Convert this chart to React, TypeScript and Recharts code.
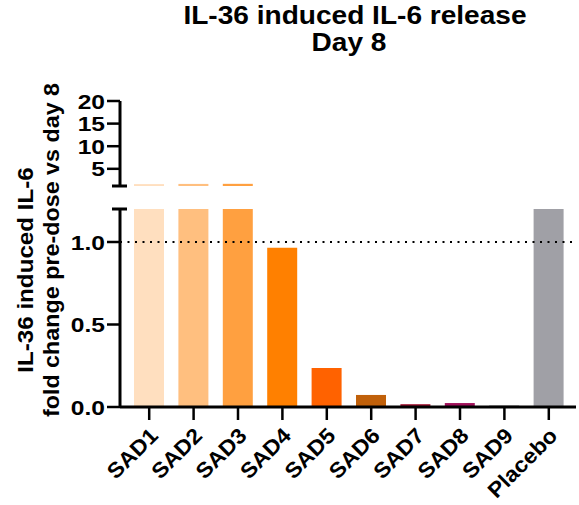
import React from 'react';
import { BarChart, Bar, XAxis, YAxis, Cell, ReferenceLine } from 'recharts';

const categories = ['SAD1', 'SAD2', 'SAD3', 'SAD4', 'SAD5', 'SAD6', 'SAD7', 'SAD8', 'SAD9', 'Placebo'];
const foldChange = [1.62, 1.66, 1.68, 0.965, 0.237, 0.073, 0.017, 0.024, 0.008, 1.2];
const barColors = ['#FFDFBF', '#FFBF7F', '#FFA040', '#FF8000', '#FF6200', '#C0600A', '#A0102F', '#A0105A', '#3A3A3A', '#A0A0A6'];
const upperTicks = [1.2, 5, 10, 15, 20];
const lowerTicks = [0, 0.5, 1.0, 1.2];
const upperDomain = [1.2, 20];
const lowerDomain = [0, 1.2];
const breakValue = 1.2;
const referenceValue = 1.0;
const titleLines = ['IL-36 induced IL-6 release', 'Day 8'];
const yLabelLines = ['IL-36 induced IL-6', 'fold change pre-dose vs day 8'];

const data = categories.map((name, i) => ({ name, value: foldChange[i] }));

const FONT = '"Liberation Sans", Arial, Helvetica, sans-serif';
const AXIS_X = 120;

const stretch = (x: number, y: number, s: number) => `translate(${x}, ${y}) scale(${s}, 1) translate(${-x}, ${-y})`;

const YTick = (props: any) => {
  const { y, payload, fmt } = props;
  const v = payload.value;
  if (Math.abs(v - breakValue) < 1e-9) {
    return <line x1={AXIS_X - 8} x2={AXIS_X + 7} y1={y} y2={y} stroke="#000" strokeWidth={3} />;
  }
  const tx = AXIS_X - 15;
  return (
    <g>
      <line x1={AXIS_X - 13} x2={AXIS_X} y1={y} y2={y} stroke="#000" strokeWidth={2.5} />
      <text x={tx} y={y} dy="0.36em" transform={stretch(tx, y, 1.17)} textAnchor="end" fontFamily={FONT} fontWeight="bold" fontSize={21} fill="#000">
        {fmt(v)}
      </text>
    </g>
  );
};

const XTick = (props: any) => {
  const { x, y, payload } = props;
  const ax = x + 10;
  const ay = y + 15;
  return (
    <text
      x={ax}
      y={ay}
      transform={`rotate(-45, ${ax}, ${ay}) ${stretch(ax, ay, 1.07)}`}
      textAnchor="end"
      fontFamily={FONT}
      fontWeight="bold"
      fontSize={21.5}
      fill="#000"
    >
      {payload.value}
    </text>
  );
};

export default function App() {
  return (
    <div style={{ position: 'absolute', left: 0, top: 0, width: 579, height: 505, background: '#fff', overflow: 'hidden' }}>
      <div style={{ position: 'absolute', left: 0, top: 0 }}>
        <BarChart width={579} height={505} data={data} margin={{ top: 209, right: 3, bottom: 0, left: 0 }}>
          <XAxis
            dataKey="name"
            height={98}
            padding={{ left: 7, right: 5 }}
            axisLine={{ stroke: '#000', strokeWidth: 3 }}
            tickLine={{ stroke: '#000', strokeWidth: 2.5 }}
            tickSize={13}
            tick={<XTick />}
            interval={0}
          />
          <YAxis
            width={120}
            domain={lowerDomain}
            ticks={lowerTicks}
            allowDataOverflow
            axisLine={{ stroke: '#000', strokeWidth: 3 }}
            tickLine={false}
            tick={<YTick fmt={(v: number) => v.toFixed(1)} />}
            interval={0}
          />
          <ReferenceLine y={referenceValue} stroke="#000" strokeWidth={2} strokeDasharray="2 5.5" />
          <Bar dataKey="value" barSize={30} isAnimationActive={false}>
            {data.map((d, i) => (
              <Cell key={d.name} fill={barColors[i]} />
            ))}
          </Bar>
        </BarChart>
      </div>
      <div style={{ position: 'absolute', left: 0, top: 0 }}>
        <BarChart width={579} height={192} data={data} margin={{ top: 101, right: 3, bottom: 6, left: 0 }}>
          <XAxis dataKey="name" hide padding={{ left: 7, right: 5 }} />
          <YAxis
            width={120}
            domain={upperDomain}
            ticks={upperTicks}
            allowDataOverflow
            axisLine={{ stroke: '#000', strokeWidth: 3 }}
            tickLine={false}
            tick={<YTick fmt={(v: number) => String(v)} />}
            interval={0}
          />
          <Bar dataKey="value" barSize={30} isAnimationActive={false}>
            {data.map((d, i) => (
              <Cell key={d.name} fill={barColors[i]} />
            ))}
          </Bar>
        </BarChart>
      </div>
      <svg width={579} height={505} style={{ position: 'absolute', left: 0, top: 0, pointerEvents: 'none' }}>
        <text x={355} y={24} transform={stretch(355, 24, 1.08)} textAnchor="middle" fontFamily={FONT} fontWeight="bold" fontSize={26} fill="#000">
          {titleLines[0]}
        </text>
        <text x={349} y={51} transform={stretch(349, 51, 1.08)} textAnchor="middle" fontFamily={FONT} fontWeight="bold" fontSize={26} fill="#000">
          {titleLines[1]}
        </text>
        <text x={33} y={270} transform={`rotate(-90, 33, 270) ${stretch(33, 270, 1.1)}`} textAnchor="middle" fontFamily={FONT} fontWeight="bold" fontSize={22} fill="#000">
          {yLabelLines[0]}
        </text>
        <text x={59} y={250} transform={`rotate(-90, 59, 250) ${stretch(59, 250, 1.06)}`} textAnchor="middle" fontFamily={FONT} fontWeight="bold" fontSize={22} fill="#000">
          {yLabelLines[1]}
        </text>
      </svg>
    </div>
  );
}
